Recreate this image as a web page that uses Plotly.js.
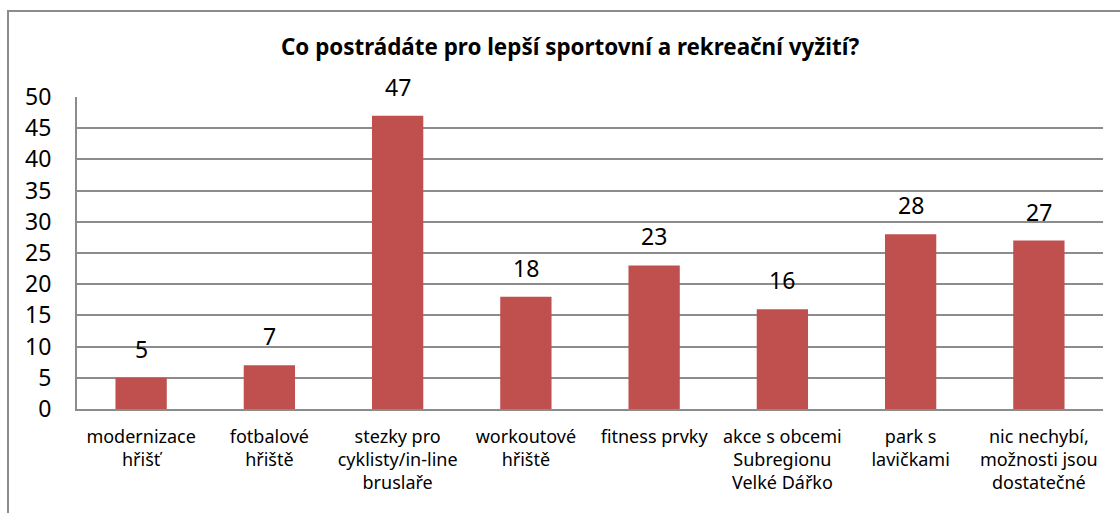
<!DOCTYPE html>
<html><head><meta charset="utf-8">
<script src="https://cdn.plot.ly/plotly-3.0.1.min.js"></script>
<style>
html,body{margin:0;padding:0;background:#fff;overflow:hidden}
#frame{position:absolute;left:7px;top:10px;width:1130px;height:520px;border:2px solid #8c8c8c;box-sizing:border-box;pointer-events:none;z-index:5}
#chart{position:absolute;left:0;top:0;width:1120px;height:513px}
</style></head>
<body>
<div id="chart"></div>
<div id="frame"></div>
<script>
const categories = [
  "modernizace<br>hřišť",
  "fotbalové<br>hřiště",
  "stezky pro<br>cyklisty/in-line<br>bruslaře",
  "workoutové<br>hřiště",
  "fitness prvky",
  "akce s obcemi<br>Subregionu<br>Velké Dářko",
  "park s<br>lavičkami",
  "nic nechybí,<br>možnosti jsou<br>dostatečné"
];
const values = [5, 7, 47, 18, 23, 16, 28, 27];
const yTicks = [0, 5, 10, 15, 20, 25, 30, 35, 40, 45, 50];
const titleText = "Co postrádáte pro lepší sportovní a rekreační vyžití?";

const fontFam = "Noto Sans, Open Sans, sans-serif";
const labelAnnotations = categories.map((c, i) => ({
  x: c, y: values[i], xref: 'x', yref: 'y',
  text: String(values[i]), showarrow: false,
  yanchor: 'bottom', yshift: 11,
  font: {family: fontFam, size: 23, color: '#000'}
}));
Plotly.newPlot('chart', [{
  type: 'bar',
  x: categories,
  y: values,
  marker: {color: '#C0504D'},
  hoverinfo: 'none'
}], {
  width: 1120, height: 513,
  margin: {l: 77, r: 17, t: 97, b: 104},
  paper_bgcolor: '#fff', plot_bgcolor: '#fff',
  bargap: 0.6,
  showlegend: false,
  annotations: labelAnnotations,
  title: {text: '<b>' + titleText + '</b>', font: {family: fontFam, size: 22.4, color: '#000'},
          x: 570/1120, xref: 'container', xanchor: 'center', y: 1 - 47/513, yref: 'container', yanchor: 'middle'},
  xaxis: {
    type: 'category',
    showgrid: false,
    showline: true, linecolor: '#8c8c8c', linewidth: 2,
    ticks: '', tickfont: {family: fontFam, size: 18, color: '#000'},
    ticklabelstandoff: 10
  },
  yaxis: {
    range: [0, 50], tickvals: yTicks, ticktext: yTicks.map(String),
    showgrid: true, gridcolor: '#8c8c8c', gridwidth: 2,
    zeroline: false,
    showline: true, linecolor: '#8c8c8c', linewidth: 2,
    ticks: '', tickfont: {family: fontFam, size: 23, color: '#000'},
    ticklabelstandoff: 19
  }
}, {displayModeBar: false, staticPlot: true});
</script>
</body></html>
